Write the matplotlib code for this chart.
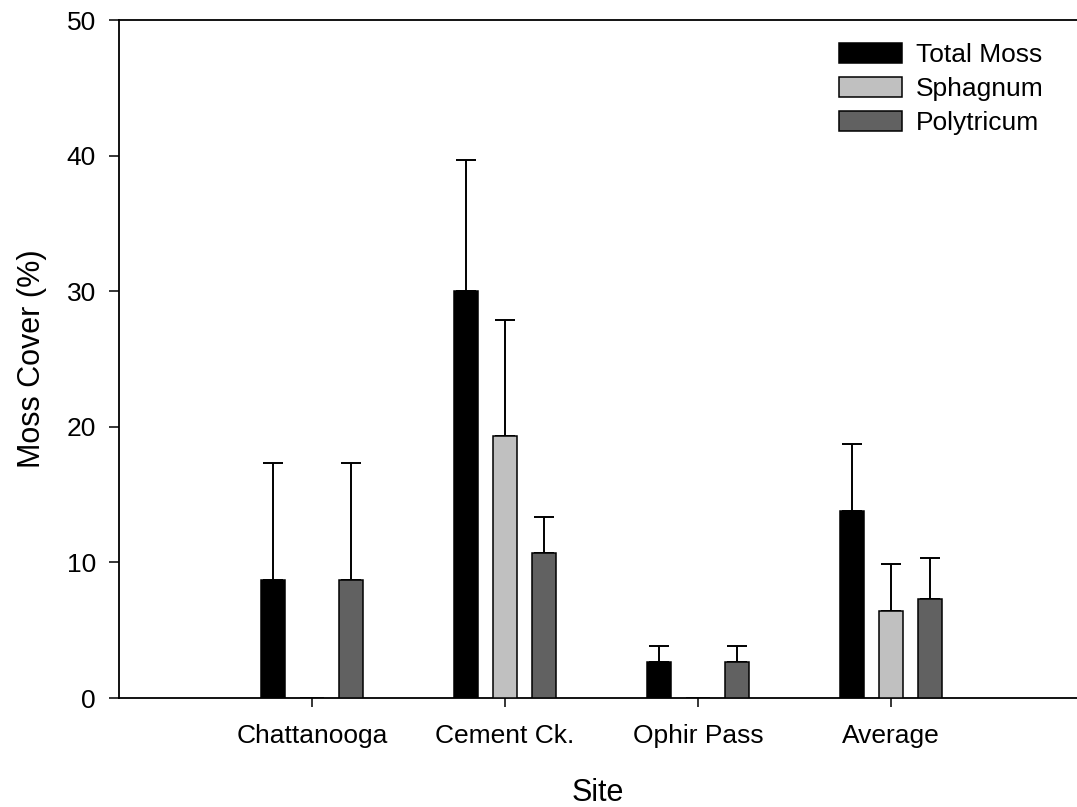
import numpy as np
import matplotlib
matplotlib.use("Agg")
import matplotlib.pyplot as plt

plt.rcParams['font.family'] = ['Liberation Sans', 'DejaVu Sans']

sites = ["Chattanooga", "Cement Ck.", "Ophir Pass", "Average"]
series = ["Total Moss", "Sphagnum", "Polytricum"]
total_moss = [8.7, 30.0, 2.65, 13.8]
total_moss_err = [8.6, 9.65, 1.2, 4.95]
sphagnum = [0.0, 19.3, 0.0, 6.45]
sphagnum_err = [0.0, 8.6, 0.0, 3.45]
polytricum = [8.7, 10.7, 2.65, 7.3]
polytricum_err = [8.6, 2.65, 1.2, 3.0]
yticks = [0, 10, 20, 30, 40, 50]

values = [total_moss, sphagnum, polytricum]
errors = [total_moss_err, sphagnum_err, polytricum_err]
colors = ["#000000", "#c0c0c0", "#616161"]
offsets = [-0.202, 0.0, 0.202]
width = 0.128

fig = plt.figure(figsize=(10.77, 8.07), dpi=100)
ax = fig.add_axes([119/1077, 1-698/807, 1-119/1077, (698-20)/807])

x = np.arange(1, len(sites)+1)
handles = []
for vals, errs, col, off, name in zip(values, errors, colors, offsets, series):
    v = np.array(vals, dtype=float)
    e = np.array(errs, dtype=float)
    b = ax.bar(x + off, v, width=width, color=col, edgecolor="black",
               linewidth=1.1, zorder=5, label=name)
    handles.append(b)
    mask = v > 0
    eb = ax.errorbar(x[mask] + off, v[mask], yerr=[np.zeros(mask.sum()), e[mask]],
                     fmt="none", ecolor="black", elinewidth=1.4, capsize=7.5,
                     capthick=1.4, zorder=2)
    for c in eb[1]:
        c.set_zorder(2)

ax.set_xlim(0, (1077-119)/193)
ax.set_ylim(0, 50)
ax.set_yticks(yticks)
ax.set_xticks(x)
ax.set_xticklabels(sites)
ax.tick_params(axis='y', direction='out', length=7.2, width=1.1, pad=9.5, labelsize=19)
ax.tick_params(axis='x', direction='out', length=6.5, width=1.1, pad=12.5, labelsize=19)
for s in ['left', 'bottom', 'top']:
    ax.spines[s].set_linewidth(1.3)
ax.spines['right'].set_visible(False)
ax.set_xlabel("Site", fontsize=22, labelpad=21.5)
ax.set_ylabel("Moss Cover (%)", fontsize=22, labelpad=14)

leg = ax.legend(handles=handles, loc='upper left',
                bbox_to_anchor=(839/1077, 1-43/807), bbox_transform=fig.transFigure,
                frameon=False, fontsize=19, handlelength=2.39, handleheight=0.8,
                handletextpad=0.53, labelspacing=0.37, borderpad=0, borderaxespad=0)

fig.savefig("out.png", dpi=100)
